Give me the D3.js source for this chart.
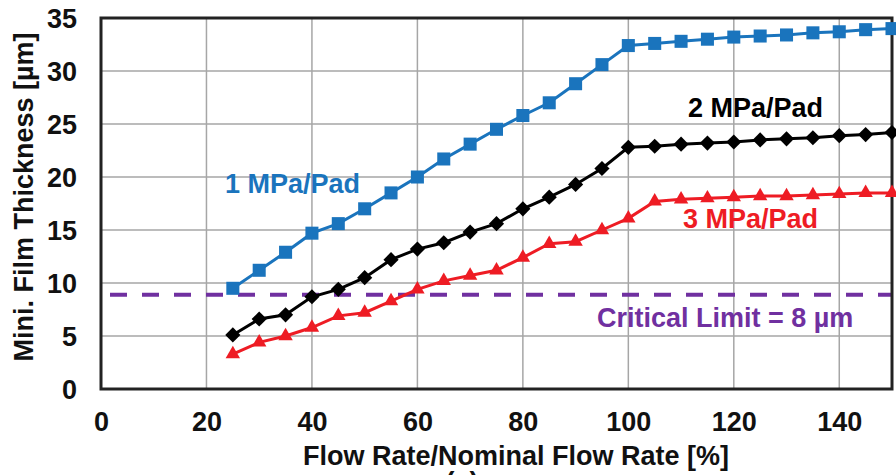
<meta charset="utf-8">
<script src="https://cdn.jsdelivr.net/npm/d3@7"></script>
<style>
body { margin:0; background:white; overflow:hidden; }
text { font-family: "Liberation Sans", Arial, sans-serif; font-weight:bold; }
</style>
<body>
<div id="chart"></div>
<script>
var flowRate = [25,30,35,40,45,50,55,60,65,70,75,80,85,90,95,100,105,110,115,120,125,130,135,140,145,150];
var mpa1 = [9.5,11.2,12.9,14.7,15.6,17.0,18.5,20.0,21.7,23.1,24.5,25.8,27.0,28.8,30.6,32.4,32.6,32.8,33.0,33.2,33.3,33.4,33.6,33.7,33.9,34.0];
var mpa2 = [5.1,6.6,7.0,8.7,9.4,10.5,12.2,13.2,13.8,14.8,15.6,17.0,18.1,19.3,20.8,22.8,22.9,23.1,23.2,23.3,23.5,23.6,23.7,23.9,24.0,24.2];
var mpa3 = [3.3,4.4,5.0,5.8,6.9,7.2,8.3,9.4,10.2,10.7,11.2,12.4,13.7,13.9,15.0,16.1,17.7,17.9,18.0,18.1,18.2,18.2,18.3,18.4,18.5,18.5];
var criticalLine = 8.9;
var xTicks = [0,20,40,60,80,100,120,140];
var yTicks = [0,5,10,15,20,25,30,35];

var width = 896, height = 475;
var margin = {left:101, right:4, top:18, bottom:86};
var fs = '27px';

var svg = d3.select('#chart').append('svg')
	.attr('width', width)
	.attr('height', height);

var x = d3.scaleLinear().domain([0,150]).range([margin.left, width - margin.right]);
var y = d3.scaleLinear().domain([0,35]).range([height - margin.bottom, margin.top]);

// grid
svg.append('g').selectAll('line').data(xTicks.slice(1)).enter().append('line')
	.attr('x1', function(d){return x(d)}).attr('x2', function(d){return x(d)})
	.attr('y1', y(0)).attr('y2', y(35))
	.style('stroke', '#a6a6a6').style('stroke-width', 1.5);
svg.append('g').selectAll('line').data(yTicks.slice(1)).enter().append('line')
	.attr('x1', x(0)).attr('x2', x(150))
	.attr('y1', function(d){return y(d)}).attr('y2', function(d){return y(d)})
	.style('stroke', '#a6a6a6').style('stroke-width', 1.5);

// critical limit
svg.append('line')
	.attr('x1', x(0)).attr('x2', x(150))
	.attr('y1', y(criticalLine)).attr('y2', y(criticalLine))
	.style('stroke', '#7030a0').style('stroke-width', 4)
	.style('stroke-dasharray', '17,15')
	.attr('stroke-dashoffset', -9);

// frame
svg.append('rect')
	.attr('x', x(0)).attr('y', y(35))
	.attr('width', x(150) - x(0)).attr('height', y(0) - y(35))
	.style('fill', 'none').style('stroke', '#222').style('stroke-width', 3);

// axes
var xAxis = d3.axisBottom(x).tickValues(xTicks).tickSize(0).tickPadding(23);
var yAxis = d3.axisLeft(y).tickValues(yTicks).tickSize(0).tickPadding(24);
var gx = svg.append('g').attr('transform', 'translate(0,' + y(0) + ')').call(xAxis);
var gy = svg.append('g').attr('transform', 'translate(' + x(0) + ',0)').call(yAxis);
gx.select('.domain').remove();
gy.select('.domain').remove();
svg.selectAll('.tick text').style('font-size', fs).style('fill', '#111').style('font-family', '"Liberation Sans", Arial, sans-serif');
gy.selectAll('.tick text').attr('dy', '0.35em');

// series
var series = [
	{name:'1 MPa/Pad', values:mpa1, color:'#1a74bd', symbol:d3.symbolSquare, size:170, rot:0},
	{name:'2 MPa/Pad', values:mpa2, color:'#000000', symbol:d3.symbolSquare, size:115, rot:45},
	{name:'3 MPa/Pad', values:mpa3, color:'#ee1c24', symbol:d3.symbolTriangle, size:90, rot:0}
];

var line = d3.line()
	.x(function(d){return x(d[0])})
	.y(function(d){return y(d[1])});

series.forEach(function(s){
	var pts = flowRate.map(function(f,i){return [f, s.values[i]]});
	svg.append('path').datum(pts)
		.attr('d', line)
		.style('fill', 'none').style('stroke', s.color).style('stroke-width', 3);
	svg.append('g').selectAll('path').data(pts).enter().append('path')
		.attr('d', d3.symbol().type(s.symbol).size(s.size))
		.attr('transform', function(d){return 'translate(' + x(d[0]) + ',' + y(d[1]) + ') rotate(' + s.rot + ')'})
		.style('fill', s.color);
});

// labels
var labels = [
	{t:'1 MPa/Pad', x:225, y:193, c:'#1a74bd'},
	{t:'2 MPa/Pad', x:688, y:117, c:'#000'},
	{t:'3 MPa/Pad', x:683, y:228, c:'#ee1c24'},
	{t:'Critical Limit = 8 µm', x:597, y:327, c:'#7030a0'}
];
svg.selectAll('.lbl').data(labels).enter().append('text')
	.attr('x', function(d){return d.x}).attr('y', function(d){return d.y})
	.style('font-size', fs).style('fill', function(d){return d.c})
	.text(function(d){return d.t});

svg.append('text')
	.attr('transform', 'translate(33,' + 197 + ') rotate(-90)')
	.attr('text-anchor', 'middle')
	.style('font-size', fs).style('fill', '#111')
	.text('Mini. Film Thickness [µm]');

svg.append('text')
	.attr('x', 516).attr('y', 465)
	.attr('text-anchor', 'middle')
	.style('font-size', fs).style('fill', '#111')
	.text('Flow Rate/Nominal Flow Rate [%]');

svg.append('text')
	.attr('x', 462).attr('y', 491)
	.attr('text-anchor', 'middle')
	.style('font-size', fs).style('fill', '#111')
	.text('(a)');
</script>
</body>
